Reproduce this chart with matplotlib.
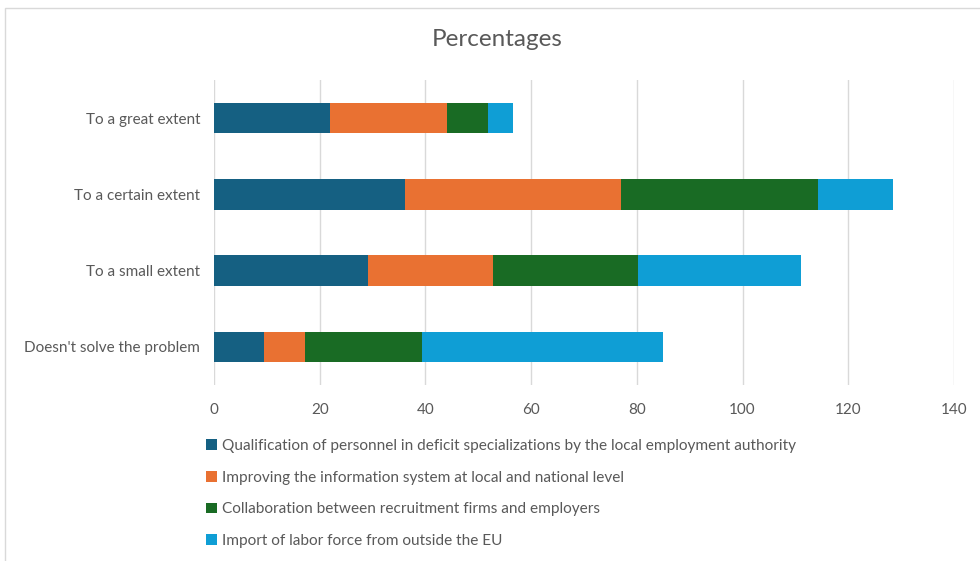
import matplotlib.pyplot as plt
from matplotlib.patches import Rectangle

plt.rcParams['font.family'] = ['Lato', 'DejaVu Sans']

# Категории и значения серий
categories = ["To a great extent", "To a certain extent", "To a small extent", "Doesn't solve the problem"]
series_names = [
    "Qualification of personnel in deficit specializations by the local employment authority",
    "Improving the information system at local and national level",
    "Collaboration between recruitment firms and employers",
    "Import of labor force from outside the EU",
]
qualification = [21.9, 36.1, 29.1, 9.4]
information = [22.1, 40.9, 23.7, 7.8]
collaboration = [7.8, 37.3, 27.5, 22.1]
import_labor = [4.7, 14.1, 30.8, 45.7]
x_ticks = [0, 20, 40, 60, 80, 100, 120, 140]

colors = ['#156082', '#E97132', '#196B24', '#0F9ED5']
text_color = '#595959'

fig = plt.figure(figsize=(9.8, 5.61), dpi=100)
# рамка диаграммы
fig.patches.append(Rectangle((5 / 980, -0.1), 1.2, 1 - 8 / 561 + 0.1, transform=fig.transFigure,
                             fill=False, edgecolor='#D9D9D9', linewidth=1))

ax = fig.add_axes([214 / 980, 1 - 385 / 561, 740 / 980, 305 / 561])

ypos = list(range(len(categories)))
left = [0] * len(categories)
for vals, name, c in zip([qualification, information, collaboration, import_labor], series_names, colors):
    ax.barh(ypos, vals, left=left, height=0.4, color=c, label=name, zorder=3)
    left = [a + b for a, b in zip(left, vals)]

ax.set_xlim(0, 140)
ax.set_ylim(3.5, -0.5)
ax.set_xticks(x_ticks)
ax.set_yticks(ypos)
ax.set_yticklabels(categories)
ax.grid(axis='x', color='#D9D9D9', linewidth=1, zorder=0)
for s in ax.spines.values():
    s.set_visible(False)
ax.tick_params(length=0, colors=text_color, labelsize=11)
ax.tick_params(axis='x', pad=13)
ax.tick_params(axis='y', pad=10)

fig.text(497 / 980, 1 - 40 / 561, "Percentages", ha='center', va='center', fontsize=17.5, color=text_color)

handles, labels = ax.get_legend_handles_labels()
fig.legend(handles, labels, loc='upper left', bbox_to_anchor=(192 / 980, 1 - 425 / 561),
           frameon=False, fontsize=11.1, labelcolor=text_color, labelspacing=1.15,
           handlelength=0.7, handleheight=0.7, handletextpad=0.35)

plt.savefig('out.png', dpi=100)
